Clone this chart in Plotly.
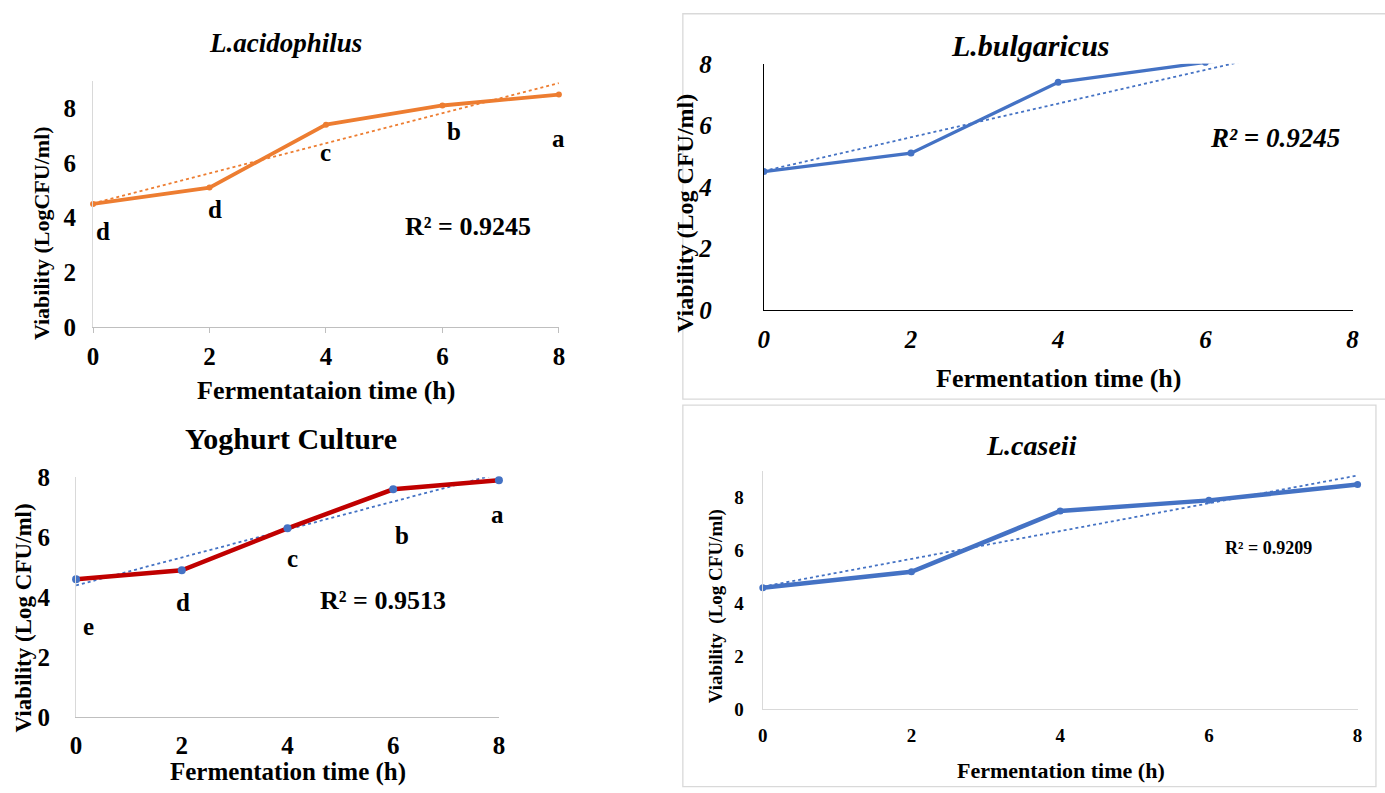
import numpy as np
import plotly.graph_objects as go

# ---------------- data ----------------
time_h = [0, 2, 4, 6, 8]
x_ticks = [0, 2, 4, 6, 8]

acido = [4.5, 5.1, 7.4, 8.1, 8.5]
bulg = [4.5, 5.1, 7.4, 8.05, 8.5]
yog = [4.6, 4.9, 6.3, 7.6, 7.9]
casei = [4.6, 5.2, 7.5, 7.9, 8.5]

acido_letters = ["d", "d", "c", "b", "a"]
acido_letter_x = [0.17, 2.1, 4.0, 6.2, 8.0]
acido_letter_y = [3.5, 4.3, 6.38, 7.14, 6.9]

yog_letters = ["e", "d", "c", "b", "a"]
yog_letter_x = [0.23, 2.03, 4.1, 6.17, 7.98]
yog_letter_y = [3.03, 3.84, 5.28, 6.07, 6.75]

r2_text = ["R² = 0.9245", "R² = 0.9245", "R² = 0.9513", "R² = 0.9209"]

FONT = "Liberation Serif"
W, H = 1385, 793

ORANGE = "#ED7D31"
BLUE = "#4472C4"
RED = "#C00000"

# the photographed page comes out slightly inset/scaled; place items so
# that they land on the intended pixel positions of the picture
SX, OX = 0.991, 4.9
SY, OY = 0.965, 12.2


def px(xp):
    return ((xp - OX) / SX) / W


def py(yp):
    return 1 - ((yp - OY) / SY) / H


def trend(y):
    m, b = np.polyfit(time_h, y, 1)
    xs = [0, 8]
    return xs, [b + m * v for v in xs]


fig = go.Figure()

# ---- Panel 1: L.acidophilus (xaxis / yaxis)
tx, ty = trend(acido)
fig.add_trace(go.Scatter(x=tx, y=ty, mode="lines", xaxis="x", yaxis="y",
                         line=dict(color=ORANGE, width=1.8, dash="dot"), showlegend=False))
fig.add_trace(go.Scatter(x=time_h, y=acido, mode="lines+markers", xaxis="x", yaxis="y",
                         line=dict(color=ORANGE, width=3.8),
                         marker=dict(color=ORANGE, size=6), showlegend=False, cliponaxis=False))

# ---- Panel 2: L.bulgaricus (x2 / y2)
tx, ty = trend(bulg)
fig.add_trace(go.Scatter(x=tx, y=ty, mode="lines", xaxis="x2", yaxis="y2",
                         line=dict(color=BLUE, width=1.8, dash="dot"), showlegend=False))
fig.add_trace(go.Scatter(x=time_h, y=bulg, mode="lines+markers", xaxis="x2", yaxis="y2",
                         line=dict(color=BLUE, width=3.2),
                         marker=dict(color=BLUE, size=7), showlegend=False, cliponaxis=True))

# ---- Panel 3: Yoghurt culture (x3 / y3)
tx, ty = trend(yog)
fig.add_trace(go.Scatter(x=tx, y=ty, mode="lines", xaxis="x3", yaxis="y3",
                         line=dict(color=BLUE, width=1.8, dash="dot"), showlegend=False))
fig.add_trace(go.Scatter(x=time_h, y=yog, mode="lines", xaxis="x3", yaxis="y3",
                         line=dict(color=RED, width=4.5), showlegend=False))
fig.add_trace(go.Scatter(x=time_h, y=yog, mode="markers", xaxis="x3", yaxis="y3",
                         marker=dict(color=BLUE, size=8), showlegend=False, cliponaxis=False))

# ---- Panel 4: L.caseii (x4 / y4)
tx, ty = trend(casei)
fig.add_trace(go.Scatter(x=tx, y=ty, mode="lines", xaxis="x4", yaxis="y4",
                         line=dict(color=BLUE, width=1.8, dash="dot"), showlegend=False))
fig.add_trace(go.Scatter(x=time_h, y=casei, mode="lines+markers", xaxis="x4", yaxis="y4",
                         line=dict(color=BLUE, width=4.5),
                         marker=dict(color=BLUE, size=7), showlegend=False, cliponaxis=False))


def font(size, italic=False, bold=True, color="black"):
    return dict(family=FONT, size=size, color=color,
                weight="bold" if bold else "normal",
                style="italic" if italic else "normal")


def xax(domain, anchor, linecolor, tsize, italic=False, ticks="", standoff=10):
    return dict(domain=domain, anchor=anchor, range=[0, 8], tickvals=x_ticks,
                showline=True, linecolor=linecolor, linewidth=1.3,
                ticks=ticks, ticklen=5, tickcolor=linecolor,
                showgrid=False, zeroline=False, fixedrange=True,
                tickfont=font(tsize, italic), ticklabelstandoff=standoff)


def yax(domain, anchor, ymax, linecolor, tsize, italic=False, standoff=10):
    return dict(domain=domain, anchor=anchor, range=[0, ymax], tickvals=[0, 2, 4, 6, 8],
                showline=True, linecolor=linecolor, linewidth=1.3,
                ticks="", showgrid=False, zeroline=False, fixedrange=True,
                tickfont=font(tsize, italic), ticklabelstandoff=standoff)


layout = dict(
    width=W, height=H, margin=dict(l=0, r=0, t=0, b=0),
    paper_bgcolor="white", plot_bgcolor="white",
    xaxis=xax([px(92), px(558)], "y", "#BFBFBF", 25, ticks="outside", standoff=2),
    yaxis=yax([py(326), py(80)], "x", 9, "#D9D9D9", 25, standoff=11),
    xaxis2=xax([px(763), px(1352)], "y2", "black", 25, italic=True, standoff=7),
    yaxis2=yax([py(309), py(63)], "x2", 8, "black", 25, italic=True, standoff=46),
    xaxis3=xax([px(75), px(498)], "y3", "#BFBFBF", 25, standoff=5),
    yaxis3=yax([py(716), py(476)], "x3", 8, "#D9D9D9", 25, standoff=20),
    xaxis4=xax([px(762), px(1357)], "y4", "#D9D9D9", 19, standoff=9),
    yaxis4=yax([py(708), py(470)], "x4", 9, "#D9D9D9", 19, standoff=14),
)
fig.update_layout(**layout)

ann = []


def pa(text, x, y, f, angle=0):
    ann.append(dict(text=text, x=px(x), y=min(1.0, max(0.0, py(y))),
                    xref="paper", yref="paper",
                    showarrow=False, font=f, textangle=angle,
                    xanchor="center", yanchor="middle"))


# titles
pa("L.acidophilus", 285, 42, font(27, italic=True))
pa("L.bulgaricus", 1030, 45, font(30, italic=True))
pa("Yoghurt Culture", 290, 437, font(30))
pa("L.caseii", 1031, 444, font(28, italic=True))

# axis titles
pa("Fermentataion time (h)", 325, 389, font(26))
pa("Fermentation time (h)", 1058, 377, font(26))
ann.append(dict(text="Fermentation time (h)", x=px(287), y=0, xref="paper", yref="paper",
                yshift=7, showarrow=False, font=font(25),
                xanchor="center", yanchor="middle"))
pa("Fermentation time (h)", 1060, 769, font(22))

pa("Viability (LogCFU/ml)", 40, 232, font(22), angle=-90)
pa("Viability (Log CFU/ml)", 684, 212, font(24), angle=-90)
pa("Viability (Log CFU/ml)", 22, 617, font(23), angle=-90)
pa("Viability  (Log CFU/ml)", 716, 605, font(19), angle=-90)

# letters
for t, lx, ly in zip(acido_letters, acido_letter_x, acido_letter_y):
    ann.append(dict(text=t, x=lx, y=ly, xref="x", yref="y", showarrow=False,
                    font=font(25), xanchor="center", yanchor="middle"))
for t, lx, ly in zip(yog_letters, yog_letter_x, yog_letter_y):
    ann.append(dict(text=t, x=lx, y=ly, xref="x3", yref="y3", showarrow=False,
                    font=font(25), xanchor="center", yanchor="middle"))

# R² labels
ann.append(dict(text=r2_text[0], x=6.44, y=3.68, xref="x", yref="y", showarrow=False,
                font=font(26), xanchor="center", yanchor="middle"))
ann.append(dict(text=r2_text[1], x=6.95, y=5.59, xref="x2", yref="y2", showarrow=False,
                font=font(27, italic=True), xanchor="center", yanchor="middle"))
ann.append(dict(text=r2_text[2], x=5.8, y=3.88, xref="x3", yref="y3", showarrow=False,
                font=font(26), xanchor="center", yanchor="middle"))
ann.append(dict(text=r2_text[3], x=6.8, y=6.1, xref="x4", yref="y4", showarrow=False,
                font=font(18), xanchor="center", yanchor="middle"))

fig.update_layout(annotations=ann)

# panel frames
fig.update_layout(shapes=[
    dict(type="rect", xref="paper", yref="paper", x0=px(682), x1=1.01,
         y0=py(398), y1=0.999, line=dict(color="#D9D9D9", width=1.3), layer="below"),
    dict(type="rect", xref="paper", yref="paper", x0=px(682), x1=0.9985,
         y0=-0.01, y1=py(404), line=dict(color="#D9D9D9", width=1.3), layer="below"),
])

fig.write_html("out.html")
